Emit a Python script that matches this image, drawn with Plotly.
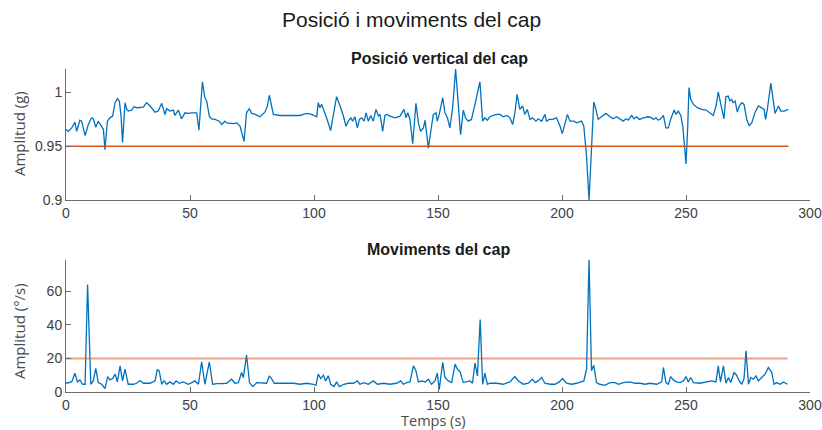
import plotly.graph_objects as go

# Vertical head position (g) over time (s)
pos_time = [0, 0.9, 2.3, 3.6, 4.3, 5.6, 6.3, 7.7, 9.0, 10.3, 11.0, 12.0, 13.0, 14.4, 15.1, 15.7, 16.7, 17.7,
            18.8, 19.8, 20.7, 21.5, 22.2, 22.8, 23.8, 24.5, 25.1, 26.5, 27.4, 28.5, 29.8, 31.2, 32.5, 33.9,
            35.9, 37.2, 38.6, 39.9, 40.6, 41.9, 43.3, 43.9, 45.3, 46.6, 48.0, 49.3, 50.7, 52.7, 53.6, 55.0,
            56.0, 56.7, 57.8, 58.7, 60.1, 61.8, 62.8, 64.1, 64.8, 66.1, 67.5, 68.8, 70.2, 71.8, 72.8, 73.9,
            74.9, 76.3, 78.2, 80.2, 81.2, 82.0, 82.9, 83.6, 86.3, 90.3, 94.4, 95.7, 97.0, 99.1, 101.1, 101.7,
            102.4, 103.1, 104.4, 105.4, 106.7, 107.8, 109.1, 110.5, 111.8, 112.9, 113.8, 114.8, 115.6, 116.5,
            117.5, 118.3, 119.2, 120.2, 121.0, 121.9, 122.9, 123.9, 125.0, 126.0, 126.6, 127.7, 128.6, 129.3,
            130.6, 132.7, 134.7, 136.3, 137.1, 137.8, 138.7, 139.8, 141.1, 142.1, 143.0, 144.1, 144.8, 146.1,
            147.0, 148.1, 149.2, 149.7, 150.5, 151.9, 152.8, 153.8, 154.8, 155.9, 157.1, 158.1, 159.1, 160.2,
            161.1, 162.2, 163.5, 164.9, 166.0, 166.9, 168.0, 168.9, 169.9, 170.9, 172.3, 173.7, 175.0, 176.3,
            177.9, 179.0, 180.1, 181.0, 181.9, 183.0, 184.1, 185.0, 186.0, 187.1, 188.1, 189.5, 190.4, 191.8,
            193.1, 193.8, 194.8, 196.2, 197.8, 199.2, 200.1, 201.2, 202.2, 203.2, 204.8, 205.9, 207.9, 208.8,
            209.9, 210.9, 211.9, 212.8, 213.5, 214.6, 215.9, 217.7, 219.4, 220.6, 222.0, 223.4, 224.7, 225.8,
            226.7, 228.1, 229.0, 230.1, 231.2, 232.8, 234.8, 236.2, 236.8, 237.9, 238.8, 239.8, 240.9, 241.9,
            242.9, 243.8, 245.2, 246.0, 246.9, 247.9, 248.7, 249.3, 250.0, 250.7, 251.2, 251.9, 253.0, 254.6,
            256.3, 258.1, 259.7, 261.0, 262.1, 263.0, 263.9, 265.3, 266.1, 267.0, 267.7, 268.4, 269.0, 269.8,
            270.7, 271.5, 272.5, 273.4, 274.5, 275.5, 276.5, 277.8, 279.2, 280.5, 281.5, 282.1, 282.9, 284.2,
            285.0, 285.9, 287.3, 288.2, 289.6, 291.3]
pos_value = [0.9655, 0.9639, 0.9670, 0.9724, 0.9639, 0.9742, 0.9733, 0.9599, 0.9702, 0.9764, 0.9755, 0.9677,
             0.9733, 0.9686, 0.9655, 0.9467, 0.9733, 0.9764, 0.9780, 0.9905, 0.9942, 0.9921, 0.9780, 0.9536,
             0.9905, 0.9842, 0.9827, 0.9836, 0.9867, 0.9858, 0.9864, 0.9864, 0.9905, 0.9874, 0.9817, 0.9827,
             0.9899, 0.9795, 0.9849, 0.9827, 0.9836, 0.9786, 0.9836, 0.9755, 0.9811, 0.9805, 0.9811, 0.9811,
             0.9649, 1.0099, 0.9952, 0.9921, 0.9780, 0.9755, 0.9749, 0.9733, 0.9702, 0.9733, 0.9717, 0.9711,
             0.9711, 0.9717, 0.9686, 0.9545, 0.9811, 0.9849,
             0.9805, 0.9796, 0.9774, 0.9817, 0.9874, 0.9974, 0.9889, 0.9796, 0.9786, 0.9786, 0.9786, 0.9796,
             0.9805, 0.9796, 0.9774, 0.9905, 0.9858, 0.9889, 0.9811, 0.9742, 0.9645, 0.9780, 0.9961, 0.9874,
             0.9786, 0.9686, 0.9733, 0.9764, 0.9733, 0.9774, 0.9670, 0.9749, 0.9764, 0.9733, 0.9811, 0.9733,
             0.9786, 0.9733, 0.9842, 0.9780, 0.9796, 0.9639, 0.9786, 0.9796, 0.9780, 0.9764, 0.9780, 0.9842,
             0.9764, 0.9811, 0.9749, 0.9523, 0.9899, 0.9717, 0.9639, 0.9670, 0.9742, 0.9483, 0.9624,
             0.9796, 0.9811, 0.9733, 0.9796, 0.9952, 0.9811, 0.9764, 0.9670, 0.9858, 1.0218, 0.9874, 0.9608,
             0.9836, 0.9764, 0.9733, 0.9749, 0.9889, 1.0014, 1.0099, 0.9733, 0.9764, 0.9742, 0.9774, 0.9786,
             0.9796, 0.9796, 0.9774, 0.9786, 0.9764, 0.9702, 0.9811, 0.9983, 0.9842, 0.9874, 0.9796, 0.9842,
             0.9749, 0.9764, 0.9733, 0.9755, 0.9733, 0.9796, 0.9733, 0.9749, 0.9749, 0.9764, 0.9686, 0.9617,
             0.9717, 0.9796, 0.9733, 0.9733, 0.9717, 0.9733, 0.9686, 0.9405, 0.9000, 0.9530, 0.9911, 0.9858,
             0.9749, 0.9774, 0.9805, 0.9774, 0.9755, 0.9774,
             0.9749, 0.9733, 0.9755, 0.9742, 0.9786, 0.9755, 0.9774, 0.9749, 0.9764, 0.9774, 0.9764, 0.9749,
             0.9764, 0.9742, 0.9755, 0.9786, 0.9670, 0.9670, 0.9749, 0.9836, 0.9796, 0.9827, 0.9786, 0.9686,
             0.9530, 0.9336, 0.9686, 1.0046, 0.9936, 0.9889, 0.9858, 0.9842, 0.9836, 0.9811, 0.9786, 0.9874,
             1.0005, 0.9905, 0.9755, 0.9961, 0.9967, 0.9921, 0.9936, 0.9905, 0.9921, 0.9817, 0.9874, 0.9905,
             0.9889, 0.9749, 0.9692, 0.9717, 0.9811, 0.9874, 0.9858, 0.9842, 0.9749, 0.9858, 1.0086, 0.9936,
             0.9805, 0.9874, 0.9827, 0.9827, 0.9842]

# Head movement rate (deg/s) over time (s)
mov_time = [0, 0.9, 2.3, 3.6, 4.6, 5.6, 6.7, 7.7, 8.7, 10.0, 11.0, 12.0, 13.0, 14.4, 15.7, 16.8, 17.7, 18.8,
            19.8, 20.7, 21.8, 22.8, 23.8, 25.1, 27.2, 28.5, 29.8, 31.2, 33.9, 35.9, 36.8, 37.6, 38.6, 39.5,
            40.6, 41.9, 43.3, 44.4, 45.7, 47.3, 49.3, 50.7, 52.0, 53.4, 54.7, 56.0, 57.8, 59.1, 60.8, 62.8,
            64.8, 66.8, 68.1, 69.5, 70.8, 71.5, 72.8, 74.0, 75.3, 76.9, 79.6, 80.9, 82.0, 82.9, 84.0, 87.6,
            91.7, 94.4, 97.0, 99.7, 100.8, 101.7, 102.7, 103.8, 104.7, 105.8, 106.7, 108.1, 109.1, 110.2,
            112.1, 113.8, 115.9, 117.5, 118.5, 120.2, 121.9, 123.9, 125.6, 128.0, 130.6, 133.3, 134.9, 136.0,
            137.4, 138.7, 140.1, 141.1, 142.1, 143.4, 144.8, 146.1, 147.4, 148.8, 149.7, 150.5, 151.9, 152.8,
            154.2, 155.5, 156.9, 157.8, 158.9, 160.2, 161.5, 162.9, 163.9, 164.9, 165.9, 167.0, 168.0, 168.9,
            169.9, 170.9, 173.7, 176.3, 179.0, 181.0, 182.4, 184.4, 186.4, 188.1, 189.1, 190.4, 191.8, 193.1,
            195.2, 197.2, 198.9, 200.2, 201.8, 203.8, 205.9, 207.5, 208.8, 209.9, 210.9, 211.9, 212.8, 213.9,
            215.2, 217.2, 219.4, 221.4, 222.8, 224.7, 227.4, 229.4, 231.5, 233.5, 235.5, 238.2, 240.2, 240.9,
            241.9, 242.9, 243.8, 244.9, 246.2, 247.6, 248.9, 250.0, 250.9, 251.9, 253.0, 255.6, 258.3, 260.3,
            262.1, 263.0, 263.9, 265.1, 266.1, 267.1, 268.0, 269.4, 270.4, 271.5, 272.5, 273.4, 274.2, 275.2,
            276.1, 277.2, 278.2, 279.2, 280.5, 281.9, 283.2, 284.6, 285.5, 286.6, 287.9, 289.3, 290.9]
mov_value = [5.2, 5.6, 6.0, 11.2, 6.0, 7.2, 4.6, 4.6, 64.0, 4.6, 6.6, 14.0, 5.6, 4.6, 2.0, 9.2, 7.2, 8.0,
             10.6, 6.0, 15.6, 6.6, 13.6, 4.6, 4.6, 5.2, 6.8, 5.2, 5.2, 6.6, 13.2, 12.6, 4.6, 6.6,
             4.6, 6.0, 4.6, 6.6, 5.2, 6.0, 4.6, 5.6, 6.6, 4.6, 18.0, 4.6, 18.0, 4.6, 5.0, 5.0,
             5.2, 7.6, 5.2, 5.6, 11.6, 8.6, 22.0, 5.6, 3.2, 5.6, 5.6, 5.2, 9.6, 8.0, 5.2, 5.2,
             5.2, 4.6, 5.2, 4.6, 4.0, 10.6, 8.0, 10.0, 6.6, 9.6, 4.6, 3.2, 6.0, 3.2,
             4.6, 5.2, 5.2, 6.6, 4.6, 5.6, 4.6, 6.6, 4.6, 5.2, 4.6, 5.2, 6.6, 4.6,
             5.6, 6.0, 15.6, 12.6, 6.0, 6.6, 6.0, 7.6, 4.6, 6.6, 11.2, 1.6, 17.6, 8.6,
             6.6, 5.6, 16.6, 13.6, 12.0, 5.6, 6.0, 6.6, 5.2, 17.2, 9.6, 43.2, 4.6, 11.2,
             4.6, 5.2, 5.2, 4.6, 6.0, 9.2, 6.6, 4.6, 5.2, 7.6, 5.6, 6.6, 8.6, 5.2,
             4.6, 4.6, 6.0, 8.0, 5.2, 4.6, 5.2, 6.0, 6.6, 13.6, 78.6, 12.6, 16.0, 5.6,
             4.6, 4.0, 5.6, 5.6, 4.6, 5.6, 6.0, 5.2, 5.2, 4.6, 5.2, 4.6, 6.0, 14.6,
             5.6, 4.6, 9.2, 7.2, 6.0, 5.6, 6.6, 9.2, 6.0, 8.6, 5.6, 5.2, 6.0, 6.6,
             6.0, 15.6, 6.0, 15.6, 5.2, 8.6, 5.6, 11.6, 10.0, 6.6, 4.6, 8.0, 24.6, 4.6,
             8.6, 7.6, 9.6, 6.6, 8.6, 10.6, 14.6, 11.6, 4.6, 5.6, 4.6, 6.0, 4.6]

pos_threshold = 0.95
mov_threshold = 20

x_ticks = [0, 50, 100, 150, 200, 250, 300]
pos_ticks = [0.9, 0.95, 1]
pos_ticktext = ["0.9", "0.95", "1"]
mov_ticks = [0, 20, 40, 60]

BLUE = "#0072BD"
ORANGE = "#D95319"
AXIS = "#6b6b6b"
TICKFONT = dict(family="Liberation Sans, Arial, sans-serif", size=14, color="#404040")
LABELFONT = dict(family="Open Sans, sans-serif", size=15, color="#4a4a4a")
TITLEFONT = dict(family="Liberation Sans, Arial, sans-serif", size=16, color="#1a1a1a")

fig = go.Figure()

fig.add_trace(go.Scatter(x=pos_time, y=pos_value, mode="lines",
                         line=dict(color=BLUE, width=1.3), xaxis="x", yaxis="y"))
fig.add_trace(go.Scatter(x=[pos_time[0], pos_time[-1]], y=[pos_threshold, pos_threshold], mode="lines",
                         line=dict(color=ORANGE, width=1.3), xaxis="x", yaxis="y"))
fig.add_trace(go.Scatter(x=mov_time, y=mov_value, mode="lines",
                         line=dict(color=BLUE, width=1.3), xaxis="x2", yaxis="y2"))
fig.add_trace(go.Scatter(x=[mov_time[0], mov_time[-1]], y=[mov_threshold, mov_threshold], mode="lines",
                         line=dict(color="rgba(217,83,25,0.55)", width=2), xaxis="x2", yaxis="y2"))

axis_common = dict(showline=True, linecolor=AXIS, linewidth=1, showgrid=False, zeroline=False,
                   ticks="inside", ticklen=5, tickcolor=AXIS, tickfont=TICKFONT, automargin=False)

fig.update_layout(
    width=822, height=430,
    margin=dict(l=66, r=12, t=0, b=0, pad=0),
    paper_bgcolor="white", plot_bgcolor="white",
    showlegend=False,
    xaxis=dict(domain=[0, 1], range=[0, 300], tickvals=x_ticks, anchor="y", **axis_common),
    yaxis=dict(domain=[0.5349, 0.8395], range=[min(pos_value), max(pos_value)],
               tickvals=pos_ticks, ticktext=pos_ticktext, anchor="x", **axis_common),
    xaxis2=dict(domain=[0, 1], range=[0, 300], tickvals=x_ticks, anchor="y2", **axis_common),
    yaxis2=dict(domain=[0.0884, 0.3953], range=[0, max(mov_value)],
                tickvals=mov_ticks, anchor="x2", **axis_common),
)

plot_left, plot_w, fig_h = 66, 744, 430


def px_x(x):
    return (x - plot_left) / plot_w


def px_y(y):
    return (fig_h - y) / fig_h


fig.add_annotation(text="Posició i moviments del cap", x=px_x(411), y=px_y(20),
                   font=dict(family="Liberation Sans, Arial, sans-serif", size=21, color="#1a1a1a"))
fig.add_annotation(text="<b>Posició vertical del cap</b>", x=px_x(439), y=px_y(58), font=TITLEFONT)
fig.add_annotation(text="<b>Moviments del cap</b>", x=px_x(438), y=px_y(249), font=TITLEFONT)
fig.add_annotation(text="Temps (s)", x=px_x(433), y=px_y(420),
                   font=dict(family="Open Sans, sans-serif", size=14.5, color="#4a4a4a"))
fig.add_annotation(text="Amplitud (g)", x=px_x(19), y=px_y(134), textangle=-90, font=LABELFONT)
fig.add_annotation(text="Amplitud (°/s)", x=px_x(19), y=px_y(331), textangle=-90, font=LABELFONT)
fig.update_annotations(xref="paper", yref="paper", xanchor="center", yanchor="middle", showarrow=False)

fig.write_html("out.html")
